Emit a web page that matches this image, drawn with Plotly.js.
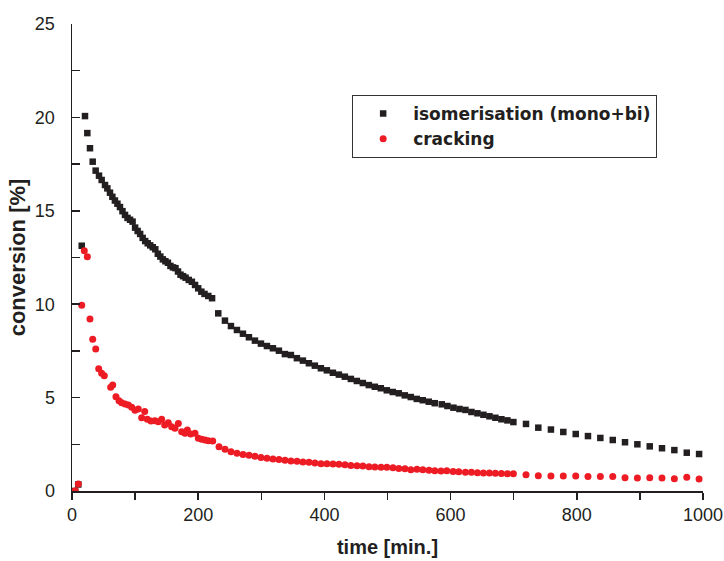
<!DOCTYPE html>
<html>
<head>
<meta charset="utf-8">
<script src="https://cdn.plot.ly/plotly-3.0.1.min.js"></script>
<style>
html,body{margin:0;padding:0;background:#fff;}
#chart{width:724px;height:561px;}
</style>
</head>
<body>
<div id="chart"></div>
<script>
// time [min.] and conversion [%] for isomerisation (mono+bi)
var isoTime = [5, 10, 15.4, 20.6, 24.3, 28.5, 32.8, 37.5, 42.8, 47, 52.3, 56, 60.2, 64, 68, 72, 76, 80, 84, 88, 92, 96, 100, 104, 108, 112, 116, 120, 124, 128, 132, 136, 140, 144, 148, 152, 156, 160, 164, 168, 172, 176, 180, 185, 190, 195, 200, 205, 210, 216, 222,
  231.8, 242.4, 251.9, 261.4, 270.9, 280.4, 289.9, 299.4, 308.9, 318.4, 327.9, 337.4, 346.9, 356.4, 365.9, 375.4, 384.9, 394.4, 403.9, 413.4, 422.9, 432.4, 441.9, 451.4, 460.9, 470.4, 479.9, 489.4, 498.9, 508.4, 517.9, 527.4, 536.9, 546.4, 555.9, 565.4, 574.9, 586, 595, 604.5, 614, 623.5, 633, 642.5, 652, 661.5, 671, 680.5, 690, 699.5,
  719.5, 739, 759, 778.6, 798.3, 817.7, 837.3, 857, 876.4, 896, 915.6, 935, 954.6, 974.3, 993.8];
var isoValue = [0.0, 0.35, 13.13, 20.07, 19.16, 18.35, 17.63, 17.15, 16.88, 16.65, 16.38, 16.2, 15.97, 15.75, 15.55, 15.38, 15.2, 14.98, 14.78, 14.62, 14.52, 14.42, 14.1, 13.92, 13.76, 13.55, 13.38, 13.26, 13.15, 13.05, 12.94, 12.7, 12.55, 12.4, 12.3, 12.22, 12.05, 11.97, 11.93, 11.75, 11.58, 11.5, 11.42, 11.3, 11.2, 11.03, 10.85, 10.67, 10.55, 10.44, 10.32,
  9.51, 9.12, 8.83, 8.62, 8.42, 8.23, 8.05, 7.89, 7.76, 7.64, 7.51, 7.33, 7.28, 7.11, 6.98, 6.84, 6.71, 6.57, 6.46, 6.33, 6.23, 6.12, 6.0, 5.89, 5.78, 5.67, 5.58, 5.5, 5.39, 5.3, 5.23, 5.12, 5.03, 4.93, 4.86, 4.78, 4.7, 4.64, 4.55, 4.46, 4.39, 4.34, 4.23, 4.16, 4.08, 4.0, 3.92, 3.84, 3.78, 3.69,
  3.59, 3.39, 3.29, 3.16, 3.05, 2.94, 2.84, 2.73, 2.61, 2.5, 2.39, 2.29, 2.19, 2.05, 1.98];

// time [min.] and conversion [%] for cracking
var crackTime = [5, 10, 15.4, 19.5, 24.3, 28.5, 32.8, 37.6, 42.3, 47, 51.2, 61.3, 64.5, 69.7, 74.5, 78.7, 84, 89.3, 94.6, 99.8, 105, 110.4, 115.2, 119.4, 125.2, 131.5, 136.8, 142.1, 146.9, 152.6, 157.9, 163.2, 168.5, 173.8, 179.1, 182.8, 188.1, 194.9, 200.2, 205.5, 210.8, 216, 223,
  233, 242.5, 252, 261.5, 271, 280.5, 290, 299.5, 309, 318.5, 328, 337.6, 347, 356.6, 366, 375.6, 385, 394.6, 404, 413.6, 423, 432.6, 442, 451.7, 461, 470.7, 480, 489.7, 499, 508.7, 518, 527.7, 537, 546.7, 556, 565.8, 575, 584.8, 594, 604, 613, 623.5, 633, 642.5, 652, 661.5, 671, 680.5, 690, 699.5,
  719.5, 739, 759, 778.6, 798.3, 817.7, 837.3, 857, 876.4, 896, 915.6, 935, 954.6, 974.3, 993.8];
var crackValue = [0.02, 0.37, 9.94, 12.86, 12.54, 9.21, 8.12, 7.6, 6.55, 6.3, 6.17, 5.55, 5.67, 5.05, 4.83, 4.72, 4.66, 4.6, 4.48, 4.32, 4.39, 3.92, 4.25, 3.84, 3.75, 3.76, 3.71, 3.84, 3.53, 3.66, 3.44, 3.36, 3.62, 3.17, 3.09, 3.27, 3.05, 3.09, 2.82, 2.77, 2.73, 2.69, 2.68,
  2.37, 2.23, 2.1, 2.02, 1.96, 1.91, 1.86, 1.8, 1.75, 1.71, 1.68, 1.64, 1.61, 1.59, 1.55, 1.54, 1.5, 1.46, 1.46, 1.45, 1.43, 1.41, 1.37, 1.35, 1.34, 1.3, 1.28, 1.27, 1.27, 1.25, 1.21, 1.19, 1.14, 1.16, 1.14, 1.11, 1.09, 1.07, 1.09, 1.05, 1.03, 1.0, 1.0, 0.98, 0.97, 0.96, 0.95, 0.94, 0.93, 0.93,
  0.87, 0.82, 0.8, 0.8, 0.8, 0.77, 0.77, 0.77, 0.71, 0.7, 0.71, 0.7, 0.66, 0.73, 0.64];

var seriesNames = ["isomerisation (mono+bi)", "cracking"];
var xTickVals = [0, 200, 400, 600, 800, 1000];
var yTickVals = [0, 5, 10, 15, 20, 25];

var FONT = '"Liberation Sans", Arial, Helvetica, sans-serif';
var LEGEND_FONT = '"DejaVu Sans", "Liberation Sans", Arial, sans-serif';

var traces = [
  {
    x: isoTime, y: isoValue, name: seriesNames[0], type: 'scatter', mode: 'markers',
    marker: {symbol: 'square', size: 6.5, color: '#231f20'}
  },
  {
    x: crackTime, y: crackValue, name: seriesNames[1], type: 'scatter', mode: 'markers',
    marker: {symbol: 'circle', size: 7, color: '#ed1c24'}
  }
];

var layout = {
  width: 724, height: 561,
  margin: {l: 72, r: 21, t: 24, b: 70},
  paper_bgcolor: '#ffffff', plot_bgcolor: '#ffffff',
  font: {family: FONT, color: '#231f20', size: 18},
  showlegend: true,
  legend: {
    x: 0.444, y: 0.848, xanchor: 'left', yanchor: 'top',
    bgcolor: '#ffffff', bordercolor: '#333333', borderwidth: 1,
    font: {family: LEGEND_FONT, size: 17, color: '#231f20', weight: 'bold'},
    itemwidth: 50, tracegroupgap: 0
  },
  xaxis: {
    range: [0, 1000], tickvals: xTickVals, ticktext: xTickVals.map(String),
    showgrid: false, zeroline: false, showline: true, linecolor: '#231f20', linewidth: 1.5,
    ticks: 'outside', ticklen: 7, tickwidth: 1.5, tickcolor: '#231f20',
    minor: {dtick: 100, ticks: 'outside', ticklen: 7, tickwidth: 1.5, tickcolor: '#231f20', showgrid: false},
    tickfont: {family: FONT, size: 18, color: '#231f20'},
    title: {text: '<b>time [min.]</b>', font: {family: FONT, size: 20, color: '#231f20'}, standoff: 16},
    mirror: false, fixedrange: true
  },
  yaxis: {
    range: [0, 25], tickvals: yTickVals, ticktext: yTickVals.map(String),
    showgrid: false, zeroline: false, showline: true, linecolor: '#231f20', linewidth: 1.5,
    ticks: 'inside', ticklen: 8, tickwidth: 1.5, tickcolor: '#231f20',
    minor: {dtick: 2.5, ticks: 'inside', ticklen: 8, tickwidth: 1.5, tickcolor: '#231f20', showgrid: false},
    tickfont: {family: FONT, size: 18, color: '#231f20'},
    ticklabelstandoff: 12,
    title: {text: '<b>conversion [%]</b>', font: {family: FONT, size: 22, color: '#231f20'}, standoff: 3},
    mirror: false, fixedrange: true
  }
};

Plotly.newPlot('chart', traces, layout, {staticPlot: true, displayModeBar: false});
</script>
</body>
</html>
